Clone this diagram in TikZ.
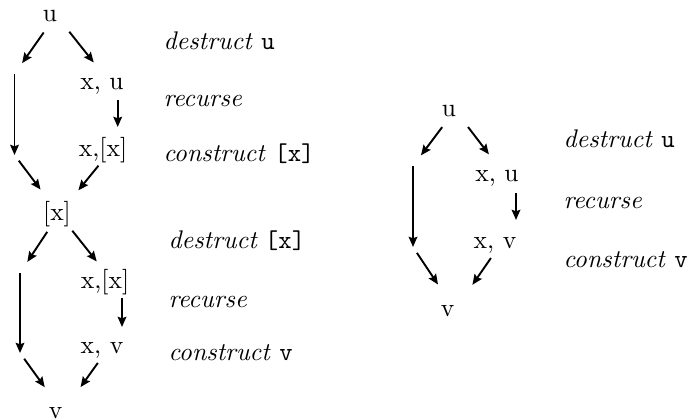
\documentclass[tikz,border=0pt]{standalone}
\usepackage{tikz}
\usetikzlibrary{arrows.meta}

\begin{document}
\begin{tikzpicture}[x=0.392pt, y=-0.392pt,
  term/.style={inner sep=0pt, text height=1.5ex, text depth=.25ex},
  lbl/.style={term, anchor=west},
  arr/.style={-{Stealth[length=4pt, width=3.4pt, inset=0.6pt]}, line width=0.75pt},
  fork/.style={arr, shorten <=8.4pt, shorten >=5.2pt},
  merge/.style={arr, shorten <=2.8pt, shorten >=12pt},
]
  \useasboundingbox (0,0) rectangle (693,420);

  % u --> [x]
  \node[term] (a-u)  at (50,15)   {u};
  \node[term] (a-xu) at (102,83)  {x, u};
  \node[term] (a-xx) at (103,150) {x,[x]};
  \node[term] (a-x)  at (57,214)  {[x]};
  \coordinate (a-top) at (56,15);
  \coordinate (a-l1) at (14.5,74);   \coordinate (a-l2) at (14.5,155);
  \coordinate (a-s1) at (117.7,100); \coordinate (a-s2) at (117.7,127);
  \coordinate (a-bot) at (59,214);

  \draw[fork] (a-top) -- (a-l1);
  \draw[fork] (a-top) -- (a-xu.north);
  \draw[arr] (a-l1) -- (a-l2);
  \draw[arr] (a-s1) -- (a-s2);
  \draw[merge] (a-l2) -- (a-bot);
  \draw[merge] (a-xx.south) -- (a-bot);

  \node[lbl] (a-d) at (163,43)  {\textit{destruct} \texttt{u}};
  \node[lbl] (a-r) at (163,100) {\textit{recurse}};
  \node[lbl] (a-c) at (163,155) {\textit{construct} \texttt{[x]}};

  % [x] --> v
  \node[term] (b-xx) at (105,282)  {x,[x]};
  \node[term] (b-xv) at (102,347)  {x, v};
  \node[term] (b-v)  at (55.5,412) {v};
  \coordinate (b-l1) at (20,273);  \coordinate (b-l2) at (20,353);
  \coordinate (b-s1) at (122,298); \coordinate (b-s2) at (122,327);
  \coordinate (b-bot) at (62.7,412);

  \draw[fork] (a-bot) -- (b-l1);
  \draw[fork] (a-bot) -- (b-xx.north);
  \draw[arr] (b-l1) -- (b-l2);
  \draw[arr] (b-s1) -- (b-s2);
  \draw[merge] (b-l2) -- (b-bot);
  \draw[merge] (b-xv.south) -- (b-bot);

  \node[lbl] (b-d) at (168,242) {\textit{destruct}\;\texttt{[x]}};
  \node[lbl] (b-r) at (168,301) {\textit{recurse}};
  \node[lbl] (b-c) at (168,354) {\textit{construct} \texttt{v}};

  % u --> v
  \node[term] (c-u)  at (449,110)   {u};
  \node[term] (c-xu) at (497,175)   {x, u};
  \node[term] (c-xv) at (495,242)   {x, v};
  \node[term] (c-v)  at (447.5,310) {v};
  \coordinate (c-top) at (455,110);
  \coordinate (c-l1) at (413,166);  \coordinate (c-l2) at (413,247);
  \coordinate (c-s1) at (516,193);  \coordinate (c-s2) at (516,220);
  \coordinate (c-bot) at (455,310);

  \draw[fork] (c-top) -- (c-l1);
  \draw[fork] (c-top) -- (c-xu.north);
  \draw[arr] (c-l1) -- (c-l2);
  \draw[arr] (c-s1) -- (c-s2);
  \draw[merge] (c-l2) -- (c-bot);
  \draw[merge] (c-xv.south) -- (c-bot);

  \node[lbl] (c-d) at (563,141) {\textit{destruct} \texttt{u}};
  \node[lbl] (c-r) at (563,202) {\textit{recurse}};
  \node[lbl] (c-c) at (563,261) {\textit{construct} \texttt{v}};
\end{tikzpicture}
\end{document}
